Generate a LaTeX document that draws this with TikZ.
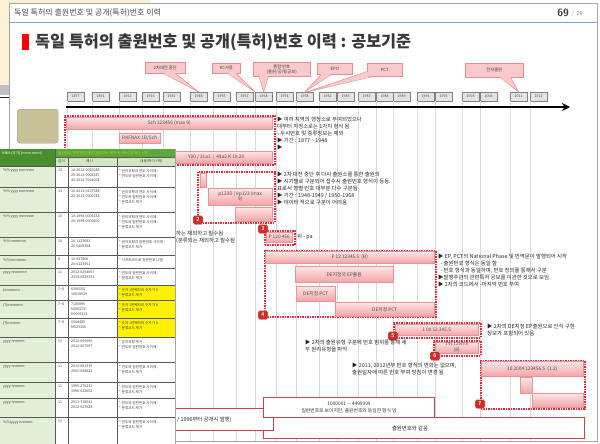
\documentclass[tikz,border=0pt]{standalone}
\usepackage{fontspec}
\newfontfamily\kr{Noto Sans CJK KR}
\usetikzlibrary{arrows.meta,calc}
\definecolor{beige}{HTML}{FCEFD6}
\definecolor{callfill}{HTML}{F9C9CB}
\definecolor{callline}{HTML}{E48F95}
\definecolor{barA}{HTML}{FDE6E6}
\definecolor{barB}{HTML}{F4A4A7}
\definecolor{barline}{HTML}{E59598}
\definecolor{dotred}{HTML}{E2263A}
\definecolor{badgered}{HTML}{C9302C}
\definecolor{yearfill}{HTML}{E4E4E4}
\definecolor{yearline}{HTML}{808080}
\definecolor{olive}{HTML}{C8C096}
\definecolor{blueline}{HTML}{7EA6D6}
\definecolor{hdrgreen}{HTML}{5DA83A}
\definecolor{hdrdark}{HTML}{4A8F2E}
\definecolor{subgreen}{HTML}{D3E6C2}
\definecolor{colgreen}{HTML}{E1EFD8}
\definecolor{wboxline}{HTML}{D2404A}
\newcommand\pbar[6]{\node[pbar, anchor=north west, minimum width=#4pt, minimum height=#5pt] (#1) at (#2,#3) {#6};}
\newcommand\dbox[5]{\node[dotbox, anchor=north west, minimum width=#4pt, minimum height=#5pt] (#1) at (#2,#3) {};}
\newcommand\yr[2]{\node[yearbox, anchor=north west] (y#1) at (#2,92) {#1};}
\tikzset{
  pbar/.style={draw=barline, top color=barA, bottom color=barB, inner sep=0, align=center,
    font=\kr\fontsize{4.8}{5.5}\selectfont, text=black!70},
  dotbox/.style={draw=dotred, line width=1.5pt, dash pattern=on 1.5pt off 1pt, inner sep=0},
  badge/.style={fill=badgered, draw=white!80!red, line width=0.4pt, rounded corners=1.5pt,
    minimum width=10pt, minimum height=9pt, inner sep=0, text=white,
    font=\sffamily\bfseries\fontsize{5.5}{6}\selectfont},
  yearbox/.style={draw=yearline, fill=yearfill, minimum width=17pt, minimum height=9pt, inner sep=0,
    font=\kr\fontsize{3.6}{4}\selectfont, text=black!70},
  callbox/.style={fill=callfill, draw=callline, line width=0.5pt, inner sep=1.5pt, align=center,
    font=\kr\fontsize{4.3}{5}\selectfont, text=black!75, anchor=north west},
  txt/.style={anchor=north west, align=left, inner sep=0, font=\kr\fontsize{5.4}{7}\selectfont, text=black!85},
  wbox/.style={draw=wboxline, line width=1.1pt, fill=white, inner sep=0, anchor=north west, align=center,
    font=\kr\fontsize{4.8}{7.5}\selectfont, text=black!80},
  tcell/.style={anchor=north west, align=left, inner sep=0, font=\kr\fontsize{3.6}{5}\selectfont, text=black!75},
  tline/.style={draw=black!65, line width=0.7pt},
  gridc/.style={draw=black!15, line width=0.5pt}
}
\begin{document}
\begin{tikzpicture}[x=1pt,y=-1pt]
\useasboundingbox (0,0) rectangle (600,444);
\fill[white] (0,0) rectangle (600,444);
% outside window pieces
\fill[beige] (0,0) rectangle (150,85);
\fill[black!25] (0,85) rectangle (9,95);
\draw[black!85, line width=1pt] (0,97.5) -- (9,97.5);
% slide
\node[draw=black!35, fill=white, minimum width=588pt, minimum height=438pt, anchor=north west, inner sep=0] (slide) at (9,3) {};
\node[anchor=west, inner sep=0, font=\kr\fontsize{8}{9}\selectfont, text=black!70] (hdr) at (14,13) {독일 특허의 출원번호 및 공개(특허)번호 이력};
\node[anchor=east, inner sep=0, font=\sffamily\bfseries\fontsize{10.5}{11}\selectfont, text=black!75] (pg) at (569,13) {69};
\node[anchor=west, inner sep=0, font=\sffamily\fontsize{6}{7}\selectfont, text=black!50] (pgt) at (571,14.5) {/ 29};
\coordinate (bl1) at (9,22); \coordinate (bl2) at (597,22);
\draw[blueline, line width=0.8pt] (bl1) -- (bl2);
\node[fill=red, minimum width=7pt, minimum height=16pt, anchor=north west, inner sep=0] (rsq) at (22,34) {};
\node[anchor=west, inner sep=0, font=\kr\bfseries\fontsize{16.3}{18}\selectfont, text=black!78] (title) at (35,42) {독일 특허의 출원번호 및 공개(특허)번호 이력 : 공보기준};
% years
\yr{1877}{67}\yr{1891}{92}\yr{1912}{119}\yr{1916}{142}\yr{1931}{163}\yr{1948}{190}
\yr{1955}{213}\yr{1967}{236}\yr{1968}{255}\yr{1974}{276}\yr{1978}{296}\yr{1982}{319}
\yr{1983}{337}\yr{1987}{358}\yr{1988}{376}\yr{1989}{393}\yr{1994}{417}\yr{1995}{435}
\yr{2003}{462}\yr{2004}{480}\yr{2011}{510}\yr{2012}{530}
\foreach \y in {1877,1891,1912,1916,1931,1948,1955,1967,1968,1974,1978,1982,1983,1987,1988,1989,1994,1995,2003,2004,2011,2012}
  \draw[gridc] (y\y.south west) -- (y\y.south west |- slide.south);
\coordinate (arS) at (66,107); \coordinate (arE) at (570,107);
\draw[line width=2.6pt, -{Stealth[length=8pt,width=8pt]}] (arS) -- (arE);
% callouts
\node[callbox, minimum width=40pt, minimum height=11pt] (c1) at (145,62) {2차대전 중단};
\node[callbox, minimum width=28pt, minimum height=10pt] (c2) at (212,63) {KC사용};
\node[callbox, minimum width=57pt, minimum height=14pt] (c3) at (253,62) {통합 번호\\(출원/공개/공보)};
\node[callbox, minimum width=35pt, minimum height=11pt] (c4) at (317,63) {EPO};
\node[callbox, minimum width=35pt, minimum height=13pt] (c5) at (367,63) {PCT};
\node[callbox, minimum width=58pt, minimum height=14pt] (c6) at (465,63) {전자출원};
\foreach \c/\a/\b/\t in {c1/0.45/0.75/y1948.north, c2/0.55/0.85/y1968.north west, c3/0.1/0.27/y1968.north,
  c4/0.12/0.4/y1978.north, c6/0.6/0.78/y2011.north}{
  \fill[callfill] ($(\c.south west)!\a!(\c.south east)+(0,-0.7)$) -- (\t) -- ($(\c.south west)!\b!(\c.south east)+(0,-0.7)$) -- cycle;
  \draw[callline, line width=0.5pt] ($(\c.south west)!\a!(\c.south east)$) -- (\t) -- ($(\c.south west)!\b!(\c.south east)$);
}
\fill[callfill] ($(c5.south west)+(0.7,-5)$) -- ($(y1978.north)+(2,0)$) -- ($(c5.south west)+(6,-0.7)$) -- cycle;
\draw[callline, line width=0.5pt] ($(c5.south west)+(0,-5)$) -- ($(y1978.north)+(2,0)$) -- ($(c5.south west)+(6,0)$);
% olive box
\node[fill=olive, draw=black!40, rounded corners=3pt, minimum width=41pt, minimum height=34pt, anchor=north west, inner sep=0] (olive) at (17,109) {};
% group 1
\dbox{d1}{64}{115}{210}{49}
\pbar{bA}{66}{117}{206}{12}{Sch 123456 (max 9)}
\pbar{bB}{119}{133}{41}{10}{RKFNAX 1B/Sch}
\pbar{bC}{160}{151}{112}{12}{Y00 / 31a1 \ | \ 49a2 K 19.20}
\node[txt] (t1) at (277,117) {▶ 여러 지역의 행정소로 부여되었으나\\대부터 지정소로는 1가지 형식 됨\\- 두시번호 및 종류정보는 제외\\▶ 기간 : 1877 \textasciitilde\ 1948\\▶};
% group 2
\dbox{d2}{197}{171}{77}{51}
\pbar{bD}{200}{173}{6}{14}{}
\pbar{bE}{208}{188}{64}{17}{p123D | 8p123 (max\\9)}
\pbar{bF}{235}{207}{37}{14}{}
\node[badge] (g2) at (198,220) {2};
\node[txt] (t2) at (277,172) {▶ 2차 대전 중단 후 다시 출원소를 통한 출원의\\▶ 시기별로 구분되어 접수시 출원번호 형식이 등등.\\표로서 형별 번호 대부분 다수 구분됨\\▶ 기간 : 1948-1949 / 1950-1968\\▶ 데이터 적으로 구분이 어려움};
% group 3
\node[txt] (t3l) at (176,231) {하는 재외하고 필수됨\\(분류되는 재외하고 필수됨};
\dbox{d3}{264}{230}{30}{14}
\pbar{bG3}{266}{232}{26}{10}{P 120 456}
\node[badge] (g3) at (263,229) {3};
\node[txt, anchor=west] (t3r) at (297,237) {위 - pa};
% group 4
\dbox{d4}{264}{250}{171}{66}
\pbar{bG}{265}{251}{169}{12}{P 12 12345.5 \ (B)}
\pbar{bH}{295}{266}{98}{16}{DE지정국 EP출원}
\pbar{bI}{296}{286}{39}{15}{DE지정 PCT}
\pbar{bJ}{335}{302}{99}{14}{DE지정 PCT}
\node[badge] (g4) at (263,315) {4};
\node[txt] (t4) at (438,254) {▶ EP, PCT의 National Phase 및 번역문이 발행되어 시작\\\ \ - 출원번호 형식은 동일 함\\\ \ - 번호 형식과 동일하며, 번호 정의를 통해서 구분\\▶발행주관의 관련특허 공보를 이관한 것으로 보임\\▶ 2차의 코드에서 -마지막 번호 부여};
% group 5
\dbox{d5}{393}{322}{87}{15}
\pbar{bK}{395}{324}{83}{11}{1 00 12 345.5}
\node[badge] (g5) at (393,336) {5};
\node[txt] (t5) at (487,324) {▶ 2차의 DE지정 EP출원으로 인식 구현\\정보가 포함되어 있음};
% group 6
\dbox{d6}{433}{340}{47}{15}
\pbar{bL}{435}{342}{43}{11}{\fontsize{4}{4.5}\selectfont 1 91 12345.5\\(8)}
\node[badge] (g6) at (435,356) {6};
\node[txt] (t6) at (305,339.5) {▶ 2차의 출원유형 구분에 번호 범위를 통해 세\\부 원리유형을 파악};
% group 7
\dbox{d7}{480}{360}{104}{48}
\pbar{bM}{481}{361}{102}{15}{10 2004 123456.5 \ (1.2)}
\pbar{bN}{520}{377}{12}{16}{}
\pbar{bO}{532}{393}{51}{14}{}
\node[badge] (g7) at (480,404) {7};
\node[txt] (t7) at (352,363) {▶ 2011, 2012년부 번호 형식의 변화는 없으며,\\출원일자에 따른 번호 부여 방침이 변경 됨};
% bottom boxes
\node[wbox, minimum width=321pt, minimum height=21pt] (w2) at (263,417) {};
\node[wbox, minimum width=133pt, minimum height=22pt] (w0) at (140,408) {};
\node[txt, anchor=west] (w0t) at (177,420) {/ 1996부터 공개시 발행)};
\node[wbox, minimum width=171pt, minimum height=20pt] (w1) at (263,397) {1000001 \ \textasciitilde \ 4499999\\일반번호로 보이지만, 출원번호와 동일한 형식 임};
\node[txt, anchor=center] (w2t) at (410,428) {출원번호와 같음};
% table overlay
\begin{scope}
\clip (0,149) rectangle (175,444);
\fill[white] (0,149) rectangle (175,444);
\fill[hdrgreen] (55,149) rectangle (175,157);
\fill[hdrdark] (0,149) rectangle (55,166);
\fill[subgreen] (55,157) rectangle (175,166);
\fill[colgreen] (0,166) rectangle (55,444);
\fill[yellow] (117,285) rectangle (175,337);
\foreach \h in {166,187,212,237,255,268,285,300,318,337,362,382,398,417}
  \draw[tline] (0,\h) -- (175,\h);
\draw[tline] (55,157) -- (175,157);
\draw[tline] (55,149) -- (55,444);
\draw[tline] (68,157) -- (68,444);
\draw[tline] (117,157) -- (117,444);
\node[tcell, text=white] (th1) at (2,151) {NNN-(국가) (nnnn nnnn)};
\node[tcell, text=yellow!70!green] (th2) at (58,151) {출원번호 체계 변경 내역 (분류코드 제거 시) 예시 및 특이 사항};
\node[tcell] (th3) at (58,159.5) {길이};
\node[tcell] (th4) at (86,159.5) {예시};
\node[tcell] (th5) at (140,159.5) {내용/특이 사항};
\foreach \t/\ca/\cb/\cc/\cd in {
 166/{\%\% yyyy nnnnnnn}/13/{10-2012-0026088\\20-2012-0002387\\40-2012-7004008}/{* 권리유형과 연도 사이에 -\\* 연도와 일련번호 사이에 -},
 187/{\%\% yyyy nnnnnnn}/13/{10-2013-0107588\\20-2013-0000788}/{* 권리유형과 연도 사이에 -\\* 연도와 일련번호 사이에 -\\* 분류코드 제거},
 212/{\%\% yyyy nnnnnnn}/13/{10-1998-0006233\\20-1998-0006400}/{* 권리유형과 연도 사이에 -\\* 연도와 일련번호 사이에 -\\* 분류코드 제거},
 237/{\%\% nnnnnnn}/10/{10-1123683\\20-0408308}/{* 권리유형과 일련번호 사이에 -\\* 분류코드 제거},
 255/{\%\%/nnnnnnn}/8/{10-947806\\20-0123451}/{* 시프트코드로 일련번호 나열},
 268/{yyyy nnnnnnn}/11/{2012-0254067\\2014-0029331}/{* 연도와 일련번호 사이에 -\\* 분류코드 제거},
 285/{(nnnnnnn}/{7\textasciitilde 8}/{6306555\\10018529}/{* 숫자 1번째자리 숫자가 0\\* 분류코드 제거},
 300/{(?)nnnnnnn}/{7\textasciitilde 8}/{7105890\\N005276\\D9005212}/{* 숫자 1번째자리 숫자가 0\\* 분류코드 제거},
 318/{(?)nnnnnn}/{7\textasciitilde 8}/{6544485\\M523366}/{* 숫자 1번째자리 숫자가 0\\* 분류코드 제거},
 337/{yyyy nnnnnn}/11/{2012-005690\\2012-007697}/{* 공지유형 제거\\* 연도와 일련번호 사이에 -},
 362/{yyyy nnnnnn}/11/{2012-081335\\2001-008821}/{* 연도와 일련번호 사이에 -\\* 분류코드 제거},
 382/{yyyy nnnnnn}/11/{1995-270231\\1996-012052}/{* 연도와 일련번호 사이에 -\\* 분류코드 제거},
 398/{yyyy nnnnnn}/11/{2011-718041\\2012-527928}/{* 연도와 일련번호 사이에 -\\* 분류코드 제거},
 417/{\%\%(yyyy nnnnnn}/11/{}/{* 연도와 일련번호 사이에 -\\* 분류코드 제거}}{
  \node[tcell] (ta\t) at (3,\t+3) {\ca};
  \node[tcell] (tb\t) at (58,\t+3) {\cb};
  \node[tcell] (tc\t) at (71,\t+3) {\cc};
  \node[tcell] (td\t) at (119,\t+3) {\cd};
}
\end{scope}
\draw[black!35, line width=0.5pt] (175,149) -- (175,444);
\end{tikzpicture}
\end{document}
